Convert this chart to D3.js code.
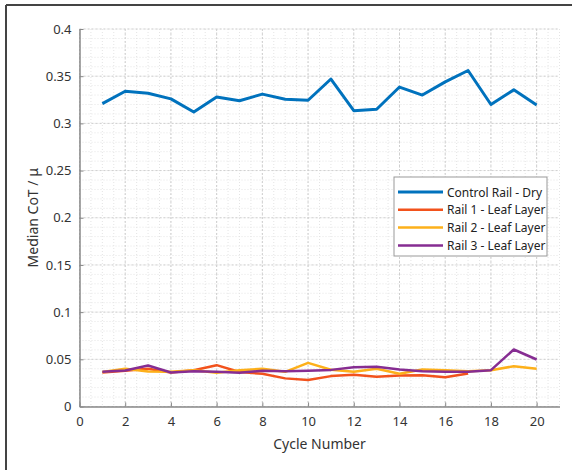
<!DOCTYPE html>
<html>
<head>
<meta charset="utf-8">
<script src="https://cdn.jsdelivr.net/npm/d3@7"></script>
<style>
  body { margin: 0; background: #fff; }
  text { font-family: "Noto Sans", "DejaVu Sans", sans-serif; }
</style>
</head>
<body>
<svg id="svg" width="572" height="470"></svg>
<script>
// chart data
var cycles = d3.range(1, 21);
var seriesNames = ["Control Rail - Dry", "Rail 1 - Leaf Layer", "Rail 2 - Leaf Layer", "Rail 3 - Leaf Layer"];
var controlDry = [0.321, 0.334, 0.332, 0.326, 0.312, 0.328, 0.324, 0.331, 0.3255, 0.3245,
                  0.347, 0.3135, 0.315, 0.3385, 0.330, 0.344, 0.356, 0.320, 0.3355, 0.3195];
var rail1 = [0.036, 0.038, 0.040, 0.036, 0.0385, 0.0438, 0.0365, 0.0346, 0.0298, 0.028,
             0.0322, 0.0336, 0.0314, 0.0328, 0.033, 0.031, 0.035];
var rail2 = [0.0365, 0.040, 0.037, 0.0367, 0.0385, 0.0357, 0.0385, 0.0399, 0.0367, 0.0462,
             0.039, 0.0367, 0.0399, 0.0346, 0.0392, 0.0385, 0.0374, 0.0385, 0.0427, 0.0399];
var rail3 = [0.0367, 0.0381, 0.0434, 0.036, 0.0374, 0.0367, 0.0357, 0.038, 0.0374, 0.038,
             0.0388, 0.0417, 0.042, 0.0392, 0.0374, 0.0367, 0.0367, 0.0385, 0.0604, 0.0498];
var xTicks = d3.range(0, 21, 2);
var yTicks = [0, 0.05, 0.1, 0.15, 0.2, 0.25, 0.3, 0.35, 0.4];

var colors = ["#0072BD", "#F2521C", "#FDB01A", "#862D92"];
var widths = [3, 2.5, 2.5, 2.5];

var svg = d3.select("#svg");

var plot = { left: 79.5, right: 559.5, top: 29, bottom: 406.5 };

var x = d3.scaleLinear().domain([0, 21]).range([plot.left, plot.right]);
var y = d3.scaleLinear().domain([0, 0.4]).range([plot.bottom, plot.top]);

// frame of the figure (only top and left edges show)
svg.append("line").attr("x1", 6).attr("x2", 572).attr("y1", 5).attr("y2", 5)
  .style("stroke", "#444").style("stroke-width", 2);
svg.append("line").attr("x1", 6).attr("x2", 6).attr("y1", 5).attr("y2", 470)
  .style("stroke", "#444").style("stroke-width", 2);

// grid
var grid = svg.append("g");
grid.selectAll(".minx").data(d3.range(0, 21.01, 0.5)).enter().append("line")
  .attr("x1", d => x(d)).attr("x2", d => x(d))
  .attr("y1", plot.top).attr("y2", plot.bottom)
  .style("stroke", "#e4e4e4").style("stroke-dasharray", "1,2");
grid.selectAll(".miny").data(d3.range(0, 0.401, 0.01)).enter().append("line")
  .attr("x1", plot.left).attr("x2", plot.right)
  .attr("y1", d => y(d)).attr("y2", d => y(d))
  .style("stroke", "#e4e4e4").style("stroke-dasharray", "1,2");
grid.selectAll(".majx").data(xTicks).enter().append("line")
  .attr("x1", d => x(d)).attr("x2", d => x(d))
  .attr("y1", plot.top).attr("y2", plot.bottom)
  .style("stroke", "#cfcfcf").style("stroke-dasharray", "2,2");
grid.selectAll(".majy").data(yTicks).enter().append("line")
  .attr("x1", plot.left).attr("x2", plot.right)
  .attr("y1", d => y(d)).attr("y2", d => y(d))
  .style("stroke", "#cfcfcf").style("stroke-dasharray", "2,2");

// axes, ticks pointing inward
var xAxis = svg.append("g").attr("transform", "translate(0," + plot.bottom + ")")
  .call(d3.axisBottom(x).tickValues(xTicks).tickSizeInner(-4).tickSizeOuter(0).tickPadding(10));
var yAxis = svg.append("g").attr("transform", "translate(" + plot.left + ",0)")
  .call(d3.axisLeft(y).tickValues(yTicks).tickFormat(d => d3.format("~g")(d)).tickSizeInner(-4).tickSizeOuter(0).tickPadding(8));
[xAxis, yAxis].forEach(function(a) {
  a.select(".domain").style("stroke", "#888").style("stroke-width", 1.5);
  a.selectAll(".tick line").style("stroke", "#888");
  a.selectAll(".tick text").style("font-size", "13px").style("fill", "#333");
});

svg.append("text")
  .attr("x", (plot.left + plot.right) / 2 - 0)
  .attr("y", 449)
  .attr("text-anchor", "middle")
  .style("font-size", "14px").style("fill", "#333")
  .text("Cycle Number");
svg.append("text")
  .attr("transform", "translate(38," + ((plot.top + plot.bottom) / 2) + ") rotate(-90)")
  .attr("text-anchor", "middle")
  .style("font-size", "14px").style("fill", "#333")
  .text("Median CoT / μ");

// series lines
var allSeries = [controlDry, rail1, rail2, rail3];
var line = d3.line().x((d, i) => x(cycles[i])).y(d => y(d));
allSeries.forEach(function(s, k) {
  svg.append("path")
    .datum(s)
    .attr("d", line)
    .style("fill", "none")
    .style("stroke", colors[k])
    .style("stroke-width", widths[k])
    .style("stroke-linejoin", "round");
});

// legend
var lg = svg.append("g").attr("transform", "translate(394,177)");
lg.append("rect").attr("width", 153).attr("height", 79)
  .style("fill", "#fff").style("stroke", "#999").style("stroke-width", 1);
seriesNames.forEach(function(n, k) {
  var yy = 15 + k * 17.8;
  lg.append("line").attr("x1", 4).attr("x2", 49).attr("y1", yy).attr("y2", yy)
    .style("stroke", colors[k]).style("stroke-width", widths[k]);
  lg.append("text").attr("x", 53).attr("y", yy + 4.5)
    .style("font-size", "12px").style("fill", "#222")
    .text(n);
});
</script>
</body>
</html>
